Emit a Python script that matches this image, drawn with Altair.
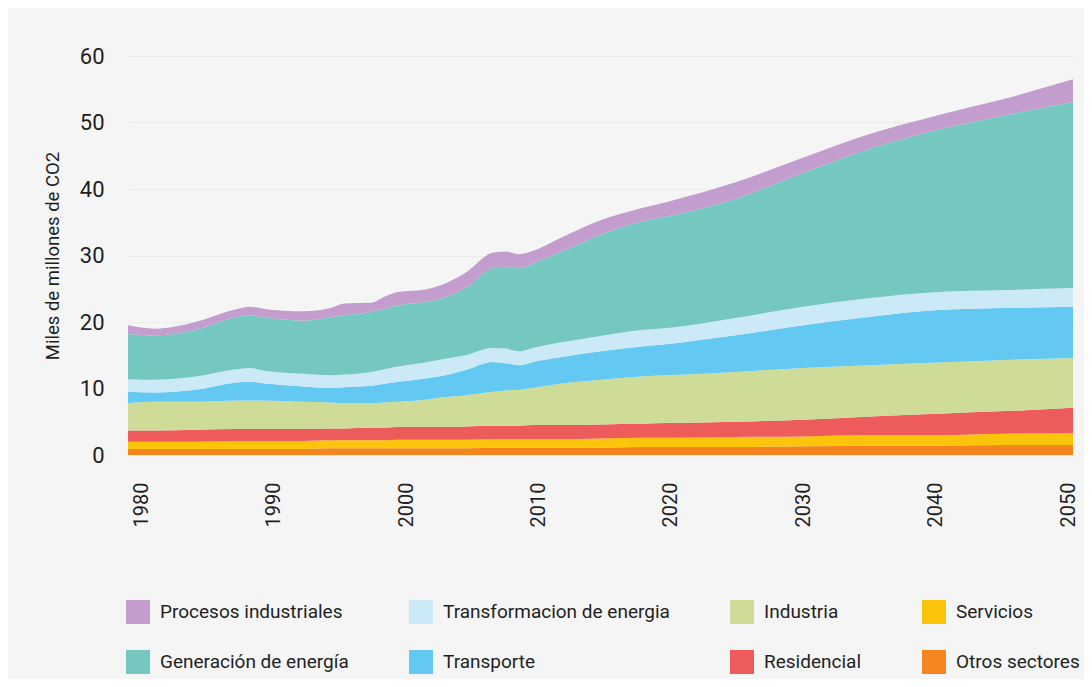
import altair as alt
import pandas as pd

# ---- data (thickness of each layer, Gt CO2) ----
years = [1980, 1982, 1985, 1988, 1989, 1990, 1993, 1995, 1996, 1998, 1999, 2000,
         2002, 2003, 2005, 2007, 2008, 2009, 2010, 2012, 2015, 2018, 2020, 2025,
         2030, 2035, 2040, 2045, 2050]

otros_sectores = [0.9, 0.9, 0.9, 0.9, 0.9, 0.9, 0.9, 1.0, 1.0, 1.0, 1.0, 1.0, 1.0, 1.0,
                  1.0, 1.1, 1.1, 1.1, 1.1, 1.1, 1.1, 1.2, 1.2, 1.2, 1.3, 1.4, 1.4, 1.5, 1.5]
servicios = [1.1, 1.1, 1.1, 1.2, 1.2, 1.2, 1.2, 1.2, 1.2, 1.2, 1.2, 1.3, 1.3, 1.3,
             1.3, 1.3, 1.3, 1.3, 1.3, 1.3, 1.4, 1.4, 1.4, 1.5, 1.5, 1.6, 1.6, 1.7, 1.8]
residencial = [1.7, 1.7, 1.8, 1.8, 1.8, 1.8, 1.8, 1.8, 1.8, 1.9, 1.9, 1.9, 1.9, 1.9,
               2.0, 2.0, 2.0, 2.0, 2.1, 2.1, 2.1, 2.1, 2.2, 2.3, 2.5, 2.8, 3.2, 3.4, 3.8]
industria = [4.1, 4.3, 4.2, 4.3, 4.3, 4.3, 4.1, 3.9, 3.8, 3.7, 3.8, 3.8, 4.1, 4.4,
             4.7, 5.1, 5.3, 5.4, 5.6, 6.2, 6.7, 7.1, 7.2, 7.5, 7.8, 7.7, 7.7, 7.7, 7.5]
transporte = [1.7, 1.4, 1.8, 2.7, 2.8, 2.6, 2.3, 2.2, 2.4, 2.6, 2.8, 3.0, 3.2, 3.2,
              3.8, 4.5, 4.1, 3.7, 3.9, 4.0, 4.3, 4.5, 4.7, 5.5, 6.4, 7.3, 7.9, 7.8, 7.7]
transformacion = [1.9, 1.9, 2.0, 2.0, 2.1, 1.9, 1.9, 1.9, 1.9, 2.1, 2.2, 2.3, 2.4, 2.5,
                  2.2, 2.1, 2.2, 2.1, 2.1, 2.2, 2.3, 2.5, 2.4, 2.6, 2.8, 2.8, 2.7, 2.7, 2.8]
generacion = [6.8, 6.7, 7.0, 7.8, 7.9, 8.0, 8.0, 8.7, 8.9, 9.0, 9.1, 9.2, 9.1, 9.1,
              10.1, 12.0, 12.3, 12.5, 12.7, 13.6, 15.2, 16.3, 16.8, 17.9, 20.1, 22.5,
              24.4, 26.3, 28.0]
procesos = [1.3, 1.0, 1.2, 1.2, 1.3, 1.3, 1.4, 1.4, 1.8, 1.4, 1.8, 2.0, 1.9, 2.0,
            2.3, 2.3, 2.3, 2.1, 1.9, 2.1, 2.2, 2.0, 2.2, 2.5, 2.3, 2.2, 2.2, 2.5, 3.4]

# stacking order, bottom to top
stack_names = ["Otros sectores", "Servicios", "Residencial", "Industria", "Transporte",
               "Transformacion de energia", "Generación de energía", "Procesos industriales"]
stack_values = [otros_sectores, servicios, residencial, industria, transporte,
                transformacion, generacion, procesos]

# legend order (row-major, 4 columns)
legend_order = ["Procesos industriales", "Transformacion de energia", "Industria", "Servicios",
                "Generación de energía", "Transporte", "Residencial", "Otros sectores"]
legend_colors = ["#c49dcf", "#cce9f8", "#cfdc97", "#fdc40c",
                 "#74c8c0", "#63c9f2", "#ee5b5b", "#f5861f"]

axis_years = [1980, 1990, 2000, 2010, 2020, 2030, 2040, 2050]
y_ticks = [0, 10, 20, 30, 40, 50, 60]

rows = []
for k, (name, vals) in enumerate(zip(stack_names, stack_values)):
    for yr, v in zip(years, vals):
        rows.append({"year": yr, "value": v, "sector": name, "orden": k})
df = pd.DataFrame(rows)
ticks_df = pd.DataFrame({"year": axis_years})

FONT = "Roboto"
TXT = "#1f1f1f"

area = alt.Chart(df).mark_area(interpolate="monotone", opacity=1).encode(
    x=alt.X("year:Q", scale=alt.Scale(domain=[1980, 2050], nice=False, zero=False), axis=None),
    y=alt.Y("value:Q", stack="zero",
            scale=alt.Scale(domain=[0, 60], nice=False),
            axis=alt.Axis(values=y_ticks, title="Miles de millones de CO2",
                          labelFont=FONT, labelFontSize=22, labelColor=TXT, labelPadding=24,
                          titleFont=FONT, titleFontSize=18.5, titleFontWeight="normal",
                          titleColor=TXT, titlePadding=17,
                          domain=False, ticks=False, grid=True, gridColor="#ebebeb")),
    color=alt.Color("sector:N", title=None,
                    scale=alt.Scale(domain=legend_order, range=legend_colors),
                    legend=alt.Legend(orient="none", legendX=-2, legendY=544, direction="horizontal",
                                      columns=4, columnPadding=60, rowPadding=26,
                                      symbolType="square", symbolSize=576, symbolStrokeWidth=0,
                                      symbolOpacity=1, labelFont=FONT, labelFontSize=19,
                                      labelColor=TXT, labelOffset=10, labelLimit=400, padding=0)),
    order=alt.Order("orden:Q", sort="ascending"),
)

xaxis = alt.Chart(ticks_df).mark_rule(opacity=0).encode(
    x=alt.X("year:Q", title=None,
            scale=alt.Scale(domain=[1980, 2050], range=[13.5, 940], nice=False, zero=False),
            axis=alt.Axis(values=axis_years, format="d", orient="bottom", labelAngle=270,
                          labelFont=FONT, labelFontSize=20, labelColor=TXT, labelPadding=27,
                          domain=False, ticks=False, grid=False)),
)

chart = alt.layer(area, xaxis).resolve_scale(x="independent").properties(
    width=945, height=399,
    padding={"left": 120, "top": 48, "right": 11, "bottom": 224},
    autosize=alt.AutoSizeParams(type="none"),
    background="#f5f5f5",
).configure_view(stroke=None)

chart.save("out.html", embed_options={"renderer": "svg", "actions": False})
